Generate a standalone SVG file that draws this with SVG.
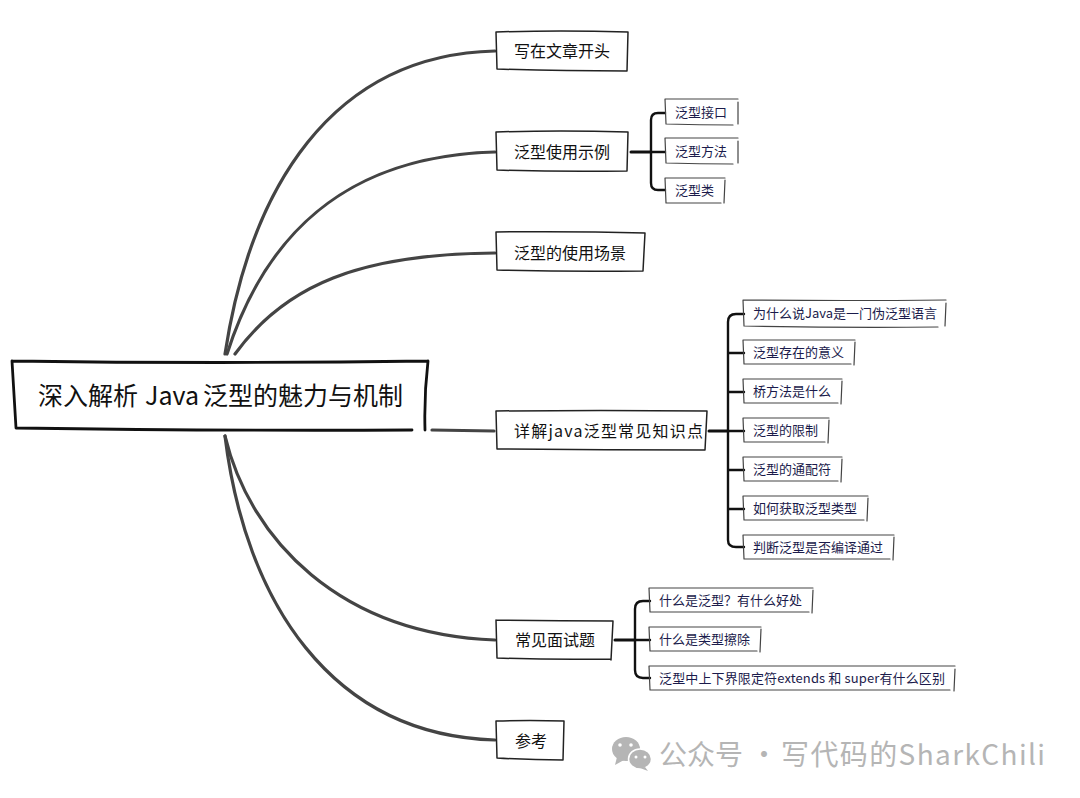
<svg xmlns="http://www.w3.org/2000/svg" width="1080" height="798" viewBox="0 0 1080 798">
<style>
text{font-family:"Noto Sans CJK SC","Noto Sans",sans-serif;text-anchor:start}
.root{font-size:25px;fill:#111}
.l1{font-size:16px;fill:#111}
.l2{font-size:13px;fill:#1b1b4b}
.wm{font-size:28px;fill:#b5b5b5}
.rb{fill:none;stroke:#111;stroke-width:2.8;stroke-linecap:round}
.b1{fill:none;stroke:#222;stroke-width:1.5;stroke-linecap:round}
.b2{fill:none;stroke:#444;stroke-width:1.2;stroke-linecap:round}
.cv{fill:none;stroke:#444;stroke-width:3.2;stroke-linecap:round}
.tr{fill:none;stroke:#111;stroke-width:2.4;stroke-linecap:round}
.st{fill:none;stroke:#111;stroke-width:3;stroke-linecap:round}
.ic{fill:#b5b5b5}
</style>
<rect width="1080" height="798" fill="#fff"/>
<g id="connectors">
<path class="cv" d="M225 354C250 190 330 55 495 51"/>
<path class="cv" d="M227 354C265 235 345 156 495 152"/>
<path class="cv" d="M235 354C285 285 360 254 495 253"/>
<path class="cv" d="M432 430L494 431"/>
<path class="cv" d="M225 436C250 540 340 634 495 640"/>
<path class="cv" d="M225 436C245 600 330 735 495 740"/>
<path class="st" d="M631 152H651"/>
<path class="tr" d="M665 113H658Q651 113 651 120V183Q651 190 658 190H665M651 152H665"/>
<path class="st" d="M709 431H728"/>
<path class="tr" d="M744 314H736Q728 314 728 322V540Q728 547 736 547H744M728 353H744M728 392H744M728 431H744M728 470H744M728 509H744"/>
<path class="st" d="M615 640H635"/>
<path class="tr" d="M650 601H643Q635 601 635 609V670Q635 678 643 678H650M635 640H650"/>
</g>
<g id="root">
<path class="rb" d="M12 361Q220 364 428 361M12 361Q14 395 16 428M428 361Q424 395 425 430M16 428Q220 431 412 430"/>
<text class="root" y="405"><tspan x="38">深入解析</tspan><tspan x="145">Java</tspan><tspan x="203">泛型的魅力与机制</tspan></text>
</g>
<g id="n1">
<path class="b1" d="M496 32Q560 30 628 32M496 32L497 69M628 32L627 71M497 69Q560 71 627 71"/>
<text class="l1" x="514" y="57">写在文章开头</text>
</g>
<g id="n2">
<path class="b1" d="M496 132Q560 130 628 132M496 132L497 170M628 132L627 171M497 170Q560 172 627 171"/>
<text class="l1" x="514" y="158">泛型使用示例</text>
</g>
<g id="n2a">
<path class="b2" d="M665 99H738M665 99L666 124M738 102V124M666 124Q700 125 733 125"/>
<text class="l2" x="675" y="117">泛型接口</text>
</g>
<g id="n2b">
<path class="b2" d="M665 138H738M665 138L666 163M738 141V163M666 163Q700 164 733 164"/>
<text class="l2" x="675" y="156">泛型方法</text>
</g>
<g id="n2c">
<path class="b2" d="M665 178H725M665 178L666 203M725 180L724 203M666 203H721"/>
<text class="l2" x="675" y="195">泛型类</text>
</g>
<g id="n3">
<path class="b1" d="M496 232Q570 231 645 233M496 232L497 270M645 233L643 271M497 270Q570 272 643 271"/>
<text class="l1" x="514" y="259">泛型的使用场景</text>
</g>
<g id="n4">
<path class="b1" d="M496 411Q600 410 707 411M496 411L497 449M707 411L705 450M497 449Q600 450 705 450"/>
<text class="l1" x="514" y="437" textLength="189">详解java泛型常见知识点</text>
</g>
<g id="n4a">
<path class="b2" d="M743 300Q845 301 946 300M743 300L744 326M946 303L945 326M744 326Q845 328 938 327"/>
<text class="l2" x="753" y="318">为什么说Java是一门伪泛型语言</text>
</g>
<g id="n4b">
<path class="b2" d="M743 340H855M743 340L744 364M855 342L854 365M744 364H851"/>
<text class="l2" x="753" y="357">泛型存在的意义</text>
</g>
<g id="n4c">
<path class="b2" d="M743 379H842M743 379L744 403M842 381L841 404M744 403H838"/>
<text class="l2" x="753" y="396">桥方法是什么</text>
</g>
<g id="n4d">
<path class="b2" d="M743 418H829M743 418L744 442M829 420L828 443M744 442H825"/>
<text class="l2" x="753" y="435">泛型的限制</text>
</g>
<g id="n4e">
<path class="b2" d="M743 457H842M743 457L744 481M842 459L841 482M744 481H838"/>
<text class="l2" x="753" y="474">泛型的通配符</text>
</g>
<g id="n4f">
<path class="b2" d="M743 496H868M743 496L744 520M868 498L867 521M744 520H864"/>
<text class="l2" x="753" y="513">如何获取泛型类型</text>
</g>
<g id="n4g">
<path class="b2" d="M743 535H894M743 535L744 559M894 537L893 560M744 559H890"/>
<text class="l2" x="753" y="552">判断泛型是否编译通过</text>
</g>
<g id="n5">
<path class="b1" d="M496 620Q555 621 613 621M496 620L497 658M613 621L611 660M497 658Q555 660 611 659"/>
<text class="l1" x="515" y="646">常见面试题</text>
</g>
<g id="n5a">
<path class="b2" d="M649 588H813M649 588L650 612M813 590L812 613M650 612H809"/>
<text class="l2" x="659" y="605">什么是泛型？有什么好处</text>
</g>
<g id="n5b">
<path class="b2" d="M649 627H761M649 627L650 651M761 629L760 652M650 651H757"/>
<text class="l2" x="659" y="644">什么是类型擦除</text>
</g>
<g id="n5c">
<path class="b2" d="M649 666H955M649 666L650 690M955 669L954 691M650 690H950"/>
<text class="l2" x="659" y="683" textLength="286">泛型中上下界限定符extends 和 super有什么区别</text>
</g>
<g id="n6">
<path class="b1" d="M496 721Q530 720 564 721M496 721L497 758M564 721L563 760M497 758Q530 760 563 760"/>
<text class="l1" x="515" y="747">参考</text>
</g>
<g id="watermark">
<ellipse class="ic" cx="626" cy="749" rx="14" ry="12"/>
<path class="ic" d="M617 757L615 765L624 760Z"/>
<ellipse class="ic" cx="640" cy="759" rx="11.500" ry="10" stroke="#fff" stroke-width="1.500"/>
<path class="ic" d="M645 767L648 771L640 768Z"/>
<circle cx="620" cy="745" r="1.800" fill="#fff"/><circle cx="631" cy="745" r="1.800" fill="#fff"/>
<circle cx="636" cy="757" r="1.500" fill="#fff"/><circle cx="645" cy="757" r="1.500" fill="#fff"/>
<text class="wm" y="765"><tspan x="659">公众号</tspan><tspan x="750">·</tspan><tspan x="781" textLength="264">写代码的SharkChili</tspan></text>
</g>
</svg>
